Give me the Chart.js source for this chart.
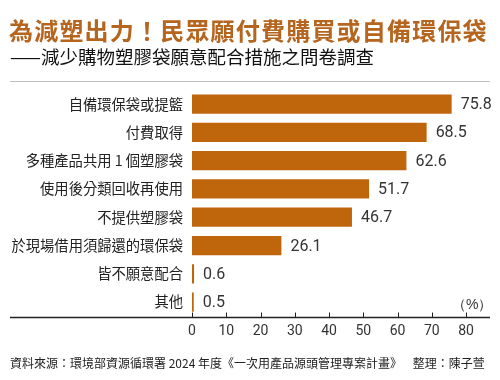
<!DOCTYPE html>
<html>
<head>
<meta charset="utf-8">
<script src="https://cdn.jsdelivr.net/npm/chart.js@4/dist/chart.umd.min.js"></script>
<style>
  html, body { margin: 0; padding: 0; background: #fff; }
  #wrap { position: relative; width: 500px; height: 380px; overflow: hidden; }
  #c { position: absolute; left: 0; top: 0; }
  .txt { position: absolute; white-space: nowrap; font-family: "Noto Sans CJK TC", "Noto Sans", sans-serif; }
  #title { left: 9px; top: 12px; font-size: 24px; font-weight: 700; color: #b5651d; letter-spacing: 1.2px; }
  #sub { left: 10px; top: 43px; font-size: 18.5px; color: #111; }
  #unit { left: 452px; top: 296px; font-size: 14px; color: #333; font-family: "Liberation Sans Narrow", sans-serif; }
  #foot { left: 10px; top: 354px; font-size: 12px; color: #222; }
</style>
</head>
<body>
<div id="wrap">
  <canvas id="c" width="500" height="380"></canvas>
  <div class="txt" id="title">為減塑出力！民眾願付費購買或自備環保袋</div>
  <div class="txt" id="sub">——減少購物塑膠袋願意配合措施之問卷調查</div>
  <div class="txt" id="unit">（%）</div>
  <div class="txt" id="foot">資料來源：環境部資源循環署 2024 年度《一次用產品源頭管理專案計畫》&nbsp;&nbsp;&nbsp;&nbsp;整理：陳子萱</div>
</div>
<script>
// data
const categories = ['自備環保袋或提籃', '付費取得', '多種產品共用 1 個塑膠袋', '使用後分類回收再使用', '不提供塑膠袋', '於現場借用須歸還的環保袋', '皆不願意配合', '其他'];
const values = [75.8, 68.5, 62.6, 51.7, 46.7, 26.1, 0.6, 0.5];
const xTicks = [0, 10, 20, 30, 40, 50, 60, 70, 80];

const barColor = '#bf650c';
const numFont = '"Liberation Sans Narrow", "Roboto", sans-serif';

// lines across the page, inward tick marks, value labels
const decorPlugin = {
  id: 'decor',
  afterDraw(chart) {
    const ctx = chart.ctx;
    const area = chart.chartArea;
    const xs = chart.scales.x;
    ctx.save();
    // top gray rule
    ctx.strokeStyle = '#bdbdbd';
    ctx.lineWidth = 1;
    ctx.beginPath();
    ctx.moveTo(10, 81.5);
    ctx.lineTo(490, 81.5);
    ctx.stroke();
    // x axis line
    const yAxis = Math.round(area.bottom) + 1.5;
    ctx.strokeStyle = '#222';
    ctx.lineWidth = 1.5;
    ctx.beginPath();
    ctx.moveTo(10, yAxis);
    ctx.lineTo(490, yAxis);
    ctx.stroke();
    // tick marks pointing up
    ctx.lineWidth = 1;
    xTicks.forEach(v => {
      const px = Math.round(xs.getPixelForValue(v)) + 0.5;
      ctx.beginPath();
      ctx.moveTo(px, yAxis - 5);
      ctx.lineTo(px, yAxis);
      ctx.stroke();
    });
    // value labels
    const meta = chart.getDatasetMeta(0);
    ctx.fillStyle = '#333';
    ctx.font = '16px ' + numFont;
    ctx.textBaseline = 'middle';
    ctx.textAlign = 'left';
    meta.data.forEach((bar, i) => {
      ctx.fillText(values[i].toFixed(1), bar.x + 9, bar.y + 1);
    });
    ctx.restore();
  }
};

new Chart(document.getElementById('c'), {
  type: 'bar',
  data: {
    labels: categories,
    datasets: [{
      data: values,
      backgroundColor: barColor,
      borderWidth: 0,
      barPercentage: 0.68,
      categoryPercentage: 1.0
    }]
  },
  options: {
    indexAxis: 'y',
    responsive: false,
    animation: false,
    events: [],
    layout: { padding: { left: 10, right: 10, top: 90, bottom: 33 } },
    plugins: { legend: { display: false }, tooltip: { enabled: false } },
    scales: {
      x: {
        min: 0,
        max: 87,
        grid: { display: false, drawTicks: false },
        border: { display: false },
        afterBuildTicks: (scale) => { scale.ticks = xTicks.map(v => ({ value: v })); },
        ticks: {
          color: '#333',
          padding: 7,
          font: { family: numFont, size: 14 }
        }
      },
      y: {
        grid: { display: false, drawTicks: false },
        border: { display: false },
        afterFit: (scale) => { scale.width = 182; },
        ticks: {
          color: '#222',
          padding: 9,
          font: { family: '"Noto Sans CJK TC", sans-serif', size: 14.3 }
        }
      }
    }
  },
  plugins: [decorPlugin]
});
</script>
</body>
</html>
